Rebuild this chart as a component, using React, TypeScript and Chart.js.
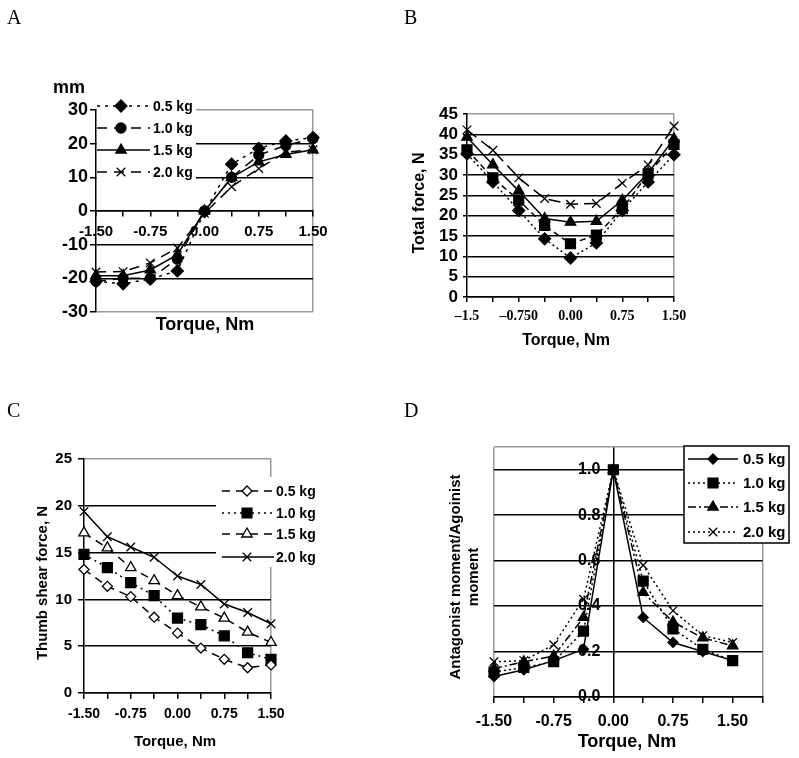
import React, { useEffect, useRef } from 'react';
import { Chart, registerables } from 'chart.js';
import { drawPoint } from 'chart.js/helpers';

Chart.register(...registerables);

// ---------- DATA ----------
const torque = [-1.5, -1.125, -0.75, -0.375, 0, 0.375, 0.75, 1.125, 1.5];
const seriesNames = ['0.5 kg', '1.0 kg', '1.5 kg', '2.0 kg'];

// Panel A: displacement, mm
const aDisp05 = [-20.9, -21.6, -20.2, -17.8, -0.2, 13.9, 18.6, 20.8, 21.8];
const aDisp10 = [-20.9, -20.0, -20.0, -14.3, 0.0, 10.0, 16.6, 19.5, 21.5];
const aDisp15 = [-19.2, -19.2, -17.5, -13.0, 0.0, 9.9, 14.6, 16.8, 18.2];
const aDisp20 = [-18.1, -18.0, -15.4, -11.0, -0.7, 7.2, 12.6, 17.5, 18.2];
const aYTicks = [-30, -20, -10, 0, 10, 20, 30];

// Panel B: total force, N
const bForce05 = [35.2, 28.3, 21.3, 14.3, 9.6, 13.3, 21.3, 28.3, 35.0];
const bForce10 = [36.2, 29.3, 23.8, 17.6, 13.1, 15.2, 21.7, 30.3, 37.5];
const bForce15 = [39.3, 32.5, 26.1, 19.3, 18.4, 18.6, 23.8, 30.5, 38.9];
const bForce20 = [41.1, 36.1, 29.3, 24.2, 22.8, 23.0, 28.0, 32.5, 42.0];
const bYTicks = [0, 5, 10, 15, 20, 25, 30, 35, 40, 45];
const bXTickLabels = ['\u20131.5', '', '\u20130.750', '', '0.00', '', '0.75', '', '1.50'];

// Panel C: thumb shear force, N
const cShear05 = [13.2, 11.4, 10.3, 8.1, 6.4, 4.8, 3.6, 2.7, 3.0];
const cShear10 = [14.8, 13.4, 11.8, 10.4, 8.0, 7.3, 6.1, 4.3, 3.6];
const cShear15 = [17.1, 15.5, 13.4, 12.0, 10.4, 9.2, 8.0, 6.5, 5.4];
const cShear20 = [19.4, 16.7, 15.6, 14.5, 12.5, 11.6, 9.5, 8.6, 7.4];
const cYTicks = [0, 5, 10, 15, 20, 25];

// Panel D: antagonist / agonist moment
const dRatio05 = [0.09, 0.12, 0.16, 0.21, 1.0, 0.35, 0.24, 0.2, 0.16];
const dRatio10 = [0.11, 0.13, 0.155, 0.29, 1.0, 0.51, 0.3, 0.21, 0.16];
const dRatio15 = [0.125, 0.155, 0.18, 0.35, 1.0, 0.46, 0.33, 0.26, 0.225];
const dRatio20 = [0.155, 0.16, 0.23, 0.43, 1.0, 0.58, 0.38, 0.27, 0.24];
const dXTicks = [-1.5, -1.125, -0.75, -0.375, 0, 0.375, 0.75, 1.125, 1.5, 1.875];
const dYTicks = [0, 0.2, 0.4, 0.6, 0.8, 1.0, 1.1];
const dYLabels = [0, 0.2, 0.4, 0.6, 0.8, 1.0];

// ---------- STYLE HELPERS ----------
const SANS = 'Arial, "Liberation Sans", Helvetica, sans-serif';
const SERIF = '"Times New Roman", "Liberation Serif", Times, serif';
const GRAY = '#9a9a9a';
const CLEAR = 'rgba(0,0,0,0)';
const bold = (size: number, family = SANS) => ({ family, size, weight: 'bold' as const });
const cssBold = (size: number) => `bold ${size}px ${SANS}`;
const isMajor = (v: number) => Math.abs(v / 0.75 - Math.round(v / 0.75)) < 1e-6;

function scale(o: any) {
  const boxSize = o.boxSize || 0;
  return {
    type: 'linear',
    min: o.min,
    max: o.max,
    position: o.position,
    afterBuildTicks: (s: any) => {
      s.ticks = o.ticks.map((v: number) => ({ value: v }));
    },
    afterFit: (s: any) => {
      if (s.isHorizontal()) s.height = boxSize;
      else s.width = boxSize;
      s.paddingLeft = 0;
      s.paddingRight = 0;
      s.paddingTop = 0;
      s.paddingBottom = 0;
    },
    ticks: {
      display: o.showLabels !== false,
      autoSkip: false,
      maxRotation: 0,
      minRotation: 0,
      padding: o.padding || 0,
      color: '#000',
      font: o.font,
      callback: o.fmt,
    },
    grid: {
      color: (c: any) => o.gridColor(c.tick ? c.tick.value : 0),
      lineWidth: 1.5,
      drawTicks: o.tickLen > 0,
      tickLength: o.tickLen || 0,
      tickColor: '#000',
      tickWidth: 1.5,
    },
    border: { display: o.border, color: '#000', width: 1.5 },
  };
}

type S = { values: number[]; dash: number[]; marker: string; r: number; open?: boolean };

function datasets(series: S[]) {
  return series.map((s, k) => ({
    label: seriesNames[k],
    data: torque.map((t, i) => ({ x: t, y: s.values[i] })),
    borderColor: '#000',
    borderWidth: 1.5,
    borderDash: s.dash,
    pointStyle: s.marker,
    pointRadius: s.r,
    pointBackgroundColor: s.open ? '#fff' : '#000',
    pointBorderColor: '#000',
    pointBorderWidth: 1.3,
    tension: 0,
    fill: false,
    clip: false,
  }));
}

function extras(p: any) {
  return {
    id: 'extras',
    beforeDatasetsDraw(chart: any) {
      if (!p.yLabelsAtZero) return;
      const ctx = chart.ctx;
      const xs = chart.scales.x;
      const ys = chart.scales.y;
      ctx.save();
      ctx.fillStyle = '#000';
      ctx.font = cssBold(16);
      ctx.textAlign = 'right';
      ctx.textBaseline = 'middle';
      const x0 = xs.getPixelForValue(0) - 13;
      dYLabels.forEach((v) => ctx.fillText(v.toFixed(1), x0, ys.getPixelForValue(v)));
      ctx.restore();
    },
    afterDraw(chart: any) {
      const ctx = chart.ctx;
      ctx.save();
      ctx.fillStyle = '#000';
      for (const t of p.texts) {
        ctx.save();
        ctx.font = t.font;
        ctx.textAlign = t.align || 'center';
        ctx.textBaseline = t.baseline || 'alphabetic';
        ctx.translate(t.x, t.y);
        if (t.rotate) ctx.rotate(-Math.PI / 2);
        ctx.fillText(t.text, 0, 0);
        ctx.restore();
      }
      const lg = p.legend;
      if (lg) {
        ctx.fillStyle = '#fff';
        ctx.fillRect(lg.box[0], lg.box[1], lg.box[2], lg.box[3]);
        if (lg.border) {
          ctx.strokeStyle = '#000';
          ctx.lineWidth = 1.5;
          ctx.setLineDash([]);
          ctx.strokeRect(lg.box[0], lg.box[1], lg.box[2], lg.box[3]);
        }
        chart.data.datasets.forEach((ds: any, i: number) => {
          const y = lg.rows[i];
          ctx.strokeStyle = '#000';
          ctx.lineWidth = 1.5;
          ctx.setLineDash(ds.borderDash || []);
          ctx.beginPath();
          ctx.moveTo(lg.x1, y);
          ctx.lineTo(lg.x2, y);
          ctx.stroke();
          ctx.setLineDash([]);
          ctx.fillStyle = ds.pointBackgroundColor;
          ctx.strokeStyle = '#000';
          ctx.lineWidth = 1.3;
          drawPoint(ctx, { pointStyle: ds.pointStyle, radius: ds.pointRadius, rotation: 0, borderWidth: 1.3 } as any, lg.mx, y);
          ctx.fillStyle = '#000';
          ctx.font = cssBold(lg.size);
          ctx.textAlign = 'left';
          ctx.textBaseline = 'middle';
          ctx.fillText(ds.label, lg.lx, y + 1);
        });
      }
      ctx.restore();
    },
  };
}

// ---------- PANELS ----------
const letterFont = `20px ${SERIF}`;

const panelA = {
  x: 0, y: 0, w: 400, h: 379,
  pad: { left: 6, right: 87, top: 110, bottom: 67 },
  xScale: scale({
    min: -1.5, max: 1.5, ticks: torque, position: { y: 0 }, font: bold(15), padding: 7, tickLen: 5, boxSize: 0,
    fmt: (v: number) => (isMajor(v) ? v.toFixed(2) : ''),
    gridColor: (v: number) => (v === 1.5 ? GRAY : CLEAR), border: true,
  }),
  yScale: scale({
    min: -30, max: 30, ticks: aYTicks, position: 'left', font: bold(18), padding: 2, tickLen: 6, boxSize: 90,
    fmt: (v: number) => String(v),
    gridColor: (v: number) => (Math.abs(v) === 30 ? GRAY : '#000'), border: true,
  }),
  series: [
    { values: aDisp05, dash: [3, 5], marker: 'rectRot', r: 6 },
    { values: aDisp10, dash: [10, 7], marker: 'circle', r: 5 },
    { values: aDisp15, dash: [], marker: 'triangle', r: 6 },
    { values: aDisp20, dash: [10, 7], marker: 'crossRot', r: 6 },
  ],
  texts: [
    { text: 'A', x: 7, y: 24, font: letterFont, align: 'left' },
    { text: 'mm', x: 53, y: 93, font: cssBold(18), align: 'left' },
    { text: 'Torque, Nm', x: 205, y: 330, font: cssBold(18) },
  ],
  legend: { box: [97, 96, 99, 88], rows: [106, 128, 150, 172], x1: 97, x2: 150, mx: 121, lx: 153, size: 14 },
};

const panelB = {
  x: 400, y: 0, w: 399, h: 379,
  pad: { left: 7, right: 125, top: 114, bottom: 42 },
  xScale: scale({
    min: -1.5, max: 1.5, ticks: torque, position: 'bottom', font: bold(14, SERIF), padding: 6, tickLen: 5, boxSize: 40,
    fmt: (_v: number, i: number) => bXTickLabels[i],
    gridColor: (v: number) => (v === 1.5 ? GRAY : CLEAR), border: true,
  }),
  yScale: scale({
    min: 0, max: 45, ticks: bYTicks, position: 'left', font: bold(17), padding: 5, tickLen: 4, boxSize: 60,
    fmt: (v: number) => String(v),
    gridColor: (v: number) => (v === 45 ? GRAY : '#000'), border: true,
  }),
  series: [
    { values: bForce05, dash: [2, 3], marker: 'rectRot', r: 6 },
    { values: bForce10, dash: [6, 4], marker: 'rect', r: 7 },
    { values: bForce15, dash: [], marker: 'triangle', r: 6 },
    { values: bForce20, dash: [12, 6], marker: 'crossRot', r: 6 },
  ],
  texts: [
    { text: 'B', x: 4, y: 24, font: letterFont, align: 'left' },
    { text: 'Torque, Nm', x: 166, y: 345, font: cssBold(16) },
    { text: 'Total force, N', x: 20, y: 203, font: cssBold(16), rotate: true, baseline: 'middle' },
  ],
};

const panelC = {
  x: 0, y: 379, w: 400, h: 379,
  pad: { left: 6, right: 129, top: 80, bottom: 25 },
  xScale: scale({
    min: -1.5, max: 1.5, ticks: torque, position: 'bottom', font: bold(14), padding: 7, tickLen: 6, boxSize: 40,
    fmt: (v: number) => (isMajor(v) ? v.toFixed(2) : ''),
    gridColor: (v: number) => (v === 1.5 ? GRAY : CLEAR), border: true,
  }),
  yScale: scale({
    min: 0, max: 25, ticks: cYTicks, position: 'left', font: bold(15), padding: 6, tickLen: 6, boxSize: 78,
    fmt: (v: number) => String(v),
    gridColor: (v: number) => (v === 25 ? GRAY : '#000'), border: true,
  }),
  series: [
    { values: cShear05, dash: [8, 6], marker: 'rectRot', r: 5, open: true },
    { values: cShear10, dash: [2, 4], marker: 'rect', r: 7 },
    { values: cShear15, dash: [8, 6], marker: 'triangle', r: 6, open: true },
    { values: cShear20, dash: [], marker: 'crossRot', r: 6 },
  ],
  texts: [
    { text: 'C', x: 7, y: 38, font: letterFont, align: 'left' },
    { text: 'Torque, Nm', x: 175, y: 367, font: cssBold(15) },
    { text: 'Thumb shear force, N', x: 43, y: 204, font: cssBold(15), rotate: true, baseline: 'middle' },
  ],
  legend: { box: [216, 98, 106, 90], rows: [112, 134, 155, 178], x1: 222, x2: 274, mx: 247, lx: 276, size: 14 },
};

const panelD = {
  x: 400, y: 379, w: 399, h: 379,
  pad: { left: 94, right: 36.5, top: 68, bottom: 21 },
  yLabelsAtZero: true,
  xScale: scale({
    min: -1.5, max: 1.875, ticks: dXTicks, position: 'bottom', font: bold(16), padding: 9, tickLen: 6, boxSize: 40,
    fmt: (v: number) => (isMajor(v) && v <= 1.5 ? v.toFixed(2) : ''),
    gridColor: (v: number) => (v === -1.5 || v === 1.875 ? GRAY : v === 0 ? '#000' : CLEAR), border: true,
  }),
  yScale: scale({
    min: 0, max: 1.1, ticks: dYTicks, position: 'left', font: bold(16), tickLen: 0, showLabels: false, boxSize: 0,
    fmt: (v: number) => v.toFixed(1),
    gridColor: (v: number) => (v === 1.1 ? GRAY : '#000'), border: false,
  }),
  series: [
    { values: dRatio05, dash: [], marker: 'rectRot', r: 5 },
    { values: dRatio10, dash: [2, 3], marker: 'rect', r: 7 },
    { values: dRatio15, dash: [8, 3, 2, 3], marker: 'triangle', r: 6 },
    { values: dRatio20, dash: [2, 3], marker: 'crossRot', r: 6 },
  ],
  texts: [
    { text: 'D', x: 4, y: 38, font: letterFont, align: 'left' },
    { text: 'Torque, Nm', x: 227, y: 368, font: cssBold(18) },
    { text: 'Antagonist moment/Agoinist', x: 56, y: 198, font: cssBold(15), rotate: true, baseline: 'middle' },
    { text: 'moment', x: 74, y: 198, font: cssBold(15), rotate: true, baseline: 'middle' },
  ],
  legend: { box: [284, 67, 105, 97], border: true, rows: [80, 104, 128, 153], x1: 288, x2: 338, mx: 313, lx: 343, size: 15 },
};

const panels = [panelA, panelB, panelC, panelD];

function Panel({ p }: { p: any }) {
  const ref = useRef<HTMLCanvasElement | null>(null);
  useEffect(() => {
    if (!ref.current) return;
    const chart = new Chart(ref.current, {
      type: 'line',
      data: { datasets: datasets(p.series) as any },
      options: {
        responsive: false,
        animation: false,
        devicePixelRatio: 1,
        events: [],
        layout: { padding: p.pad },
        plugins: { legend: { display: false }, tooltip: { enabled: false }, title: { display: false } },
        scales: { x: p.xScale, y: p.yScale } as any,
      },
      plugins: [extras(p)],
    } as any);
    return () => chart.destroy();
  }, []);
  return (
    <canvas
      ref={ref}
      width={p.w}
      height={p.h}
      style={{ position: 'absolute', left: p.x, top: p.y, width: p.w, height: p.h }}
    />
  );
}

export default function App() {
  return (
    <div style={{ position: 'absolute', left: 0, top: 0, width: 799, height: 758, background: '#fff', overflow: 'hidden' }}>
      {panels.map((p, i) => (
        <Panel key={i} p={p} />
      ))}
    </div>
  );
}
